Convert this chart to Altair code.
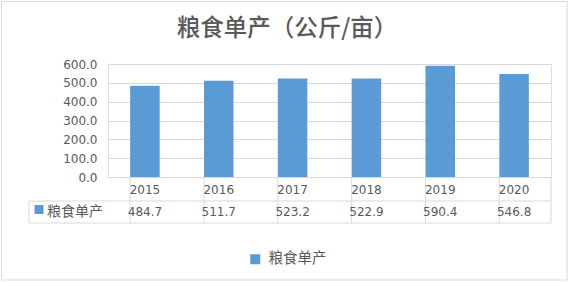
import altair as alt
import pandas as pd

years = ["2015", "2016", "2017", "2018", "2019", "2020"]
values = [484.7, 511.7, 523.2, 522.9, 590.4, 546.8]
series_name = "粮食单产"
chart_title = "粮食单产（公斤/亩）"
y_ticks = [0, 100, 200, 300, 400, 500, 600]

df = pd.DataFrame({"year": years, "value": values, "series": [series_name] * len(years)})
one = pd.DataFrame({"k": [0]})

W, H = 443, 113
BLUE = "#5B9BD5"
GRID = "#D9D9D9"
TXT = "#595959"
NUMFONT = "DejaVu Sans"
CJK = "Noto Sans CJK SC"

xenc = alt.X("year:N", sort=years,
             scale=alt.Scale(paddingInner=0.6, paddingOuter=0.3), axis=None)

bars = alt.Chart(df).mark_bar().encode(
    x=xenc,
    y=alt.Y("value:Q", scale=alt.Scale(domain=[0, 600], nice=False),
            axis=alt.Axis(values=y_ticks, format=".1f", title=None, grid=True,
                          gridColor=GRID, domain=False, ticks=False,
                          labelPadding=11, labelFontSize=12, labelFont=NUMFONT,
                          labelColor=TXT)),
    color=alt.Color("series:N", scale=alt.Scale(domain=[series_name], range=[BLUE]),
                    legend=alt.Legend(orient="none", legendX=140, legendY=188, title=None,
                                      symbolType="square", symbolSize=100,
                                      symbolStrokeWidth=0, labelFontSize=14.5,
                                      labelFont=CJK, labelColor=TXT, labelOffset=6,
                                      padding=0)),
)

year_text = alt.Chart(df).mark_text(font=NUMFONT, fontSize=12, color=TXT).encode(
    x=xenc, y=alt.value(H + 12.5), text="year:N")

val_text = alt.Chart(df).mark_text(font=NUMFONT, fontSize=12, color=TXT).encode(
    x=xenc, y=alt.value(H + 35), text=alt.Text("value:Q", format=".1f"))

vlines = alt.Chart(df).mark_rule(color=GRID).encode(
    x=alt.X("year:N", sort=years, bandPosition=0,
            scale=alt.Scale(paddingInner=0.6, paddingOuter=0.3), axis=None),
    y=alt.value(H), y2=alt.value(H + 46))

right_line = alt.Chart(one).mark_rule(color=GRID).encode(
    x=alt.value(W), y=alt.value(H), y2=alt.value(H + 46))
left_line = alt.Chart(one).mark_rule(color=GRID).encode(
    x=alt.value(-79), y=alt.value(H + 24), y2=alt.value(H + 46))
hline1 = alt.Chart(one).mark_rule(color=GRID).encode(
    x=alt.value(-79), x2=alt.value(W), y=alt.value(H + 24))
hline2 = alt.Chart(one).mark_rule(color=GRID).encode(
    x=alt.value(-79), x2=alt.value(W), y=alt.value(H + 46))

row_sq = alt.Chart(one).mark_square(color=BLUE, opacity=1, size=81).encode(
    x=alt.value(-69), y=alt.value(H + 32.5))
row_label = alt.Chart(one).mark_text(font=CJK, fontSize=14, color=TXT, align="left").encode(
    x=alt.value(-61), y=alt.value(H + 35), text=alt.value(series_name))

title_text = alt.Chart(one).mark_text(font=CJK, fontSize=23.5, color=TXT, align="center",
                                      baseline="middle", fontWeight=500).encode(
    x=alt.value(179), y=alt.value(-35), text=alt.value(chart_title))

border = alt.Chart(one).mark_rect(fill=None, stroke=GRID, strokeWidth=1).encode(
    x=alt.value(-106.5), x2=alt.value(459), y=alt.value(-62.5), y2=alt.value(216))

chart = alt.layer(
    border, bars, vlines, right_line, left_line, hline1, hline2,
    year_text, val_text, row_sq, row_label, title_text
).properties(
    width=W, height=H,
    autosize=alt.AutoSizeParams(type="none"),
    padding={"left": 108, "top": 64, "right": 20, "bottom": 105},
).configure_view(stroke=None).configure(background="white")

chart.save("out.html", embed_options={"renderer": "svg", "actions": False})
